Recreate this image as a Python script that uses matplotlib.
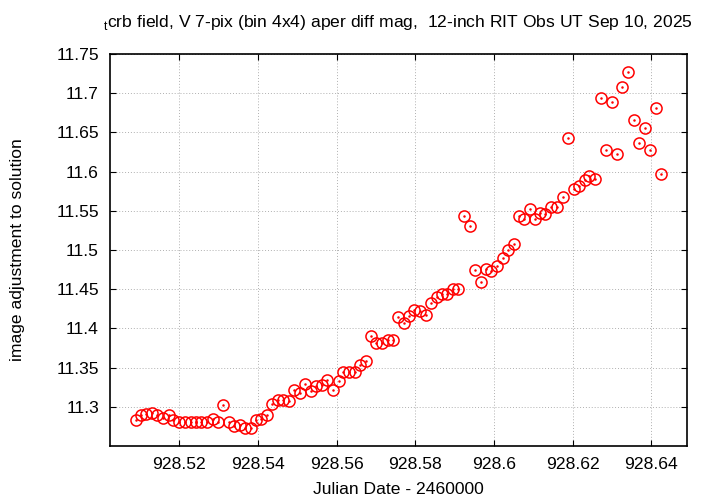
import matplotlib
matplotlib.use("Agg")
import matplotlib.pyplot as plt

plt.rcParams['font.family'] = ['Liberation Sans', 'DejaVu Sans']
plt.rcParams['mathtext.fontset'] = 'custom'
plt.rcParams['mathtext.rm'] = 'Liberation Sans'

# Julian Date - 2460000
jd = [928.5089, 928.5102, 928.5115, 928.5130, 928.5143, 928.5159, 928.5174, 928.5185,
      928.5200, 928.5214, 928.5229, 928.5242, 928.5256, 928.5270, 928.5285, 928.5298,
      928.5312, 928.5326, 928.5340, 928.5354, 928.5368, 928.5382, 928.5394, 928.5409,
      928.5424, 928.5437, 928.5450, 928.5464, 928.5480, 928.5493, 928.5507, 928.5521,
      928.5534, 928.5547, 928.5562, 928.5576, 928.5591, 928.5605, 928.5617, 928.5631,
      928.5647, 928.5660, 928.5675, 928.5688, 928.5700, 928.5715, 928.5730, 928.5744,
      928.5757, 928.5771, 928.5785, 928.5798, 928.5812, 928.5827, 928.5841, 928.5855,
      928.5868, 928.5882, 928.5896, 928.5910, 928.5924, 928.5939, 928.5952, 928.5966,
      928.5980, 928.5993, 928.6008, 928.6022, 928.6036, 928.6050, 928.6063, 928.6077,
      928.6091, 928.6105, 928.6117, 928.6131, 928.6146, 928.6160, 928.6175, 928.6188,
      928.6203, 928.6216, 928.6231, 928.6243, 928.6257, 928.6272, 928.6285, 928.6300,
      928.6313, 928.6327, 928.6341, 928.6355, 928.6369, 928.6383, 928.6397, 928.6411,
      928.6424]

# image adjustment to solution
adj = [11.283, 11.290, 11.291, 11.292, 11.290, 11.286, 11.289, 11.283,
       11.281, 11.281, 11.281, 11.281, 11.280, 11.280, 11.284, 11.280,
       11.302, 11.280, 11.275, 11.277, 11.273, 11.273, 11.283, 11.284,
       11.289, 11.303, 11.309, 11.309, 11.307, 11.322, 11.318, 11.329,
       11.320, 11.326, 11.328, 11.334, 11.322, 11.333, 11.344, 11.344,
       11.344, 11.353, 11.359, 11.390, 11.382, 11.381, 11.385, 11.385,
       11.414, 11.407, 11.416, 11.424, 11.422, 11.417, 11.432, 11.440,
       11.444, 11.444, 11.450, 11.450, 11.544, 11.530, 11.474, 11.459,
       11.476, 11.473, 11.480, 11.490, 11.500, 11.508, 11.544, 11.540,
       11.552, 11.540, 11.547, 11.546, 11.555, 11.555, 11.568, 11.643,
       11.578, 11.581, 11.589, 11.594, 11.591, 11.694, 11.627, 11.689,
       11.622, 11.708, 11.727, 11.666, 11.636, 11.655, 11.627, 11.681,
       11.597]

xticks = [928.52, 928.54, 928.56, 928.58, 928.60, 928.62, 928.64]
xticklabels = ['928.52', '928.54', '928.56', '928.58', '928.6', '928.62', '928.64']
yticks = [11.3, 11.35, 11.4, 11.45, 11.5, 11.55, 11.6, 11.65, 11.7, 11.75]
yticklabels = ['11.3', '11.35', '11.4', '11.45', '11.5', '11.55', '11.6', '11.65', '11.7', '11.75']

fig = plt.figure(figsize=(7.2, 5.04), dpi=100)
ax = fig.add_axes([110/720, 1-446/504, 577/720, 392/504])

ax.plot(jd, adj, 'o', mfc='none', mec='#ff0000', ms=8, mew=1.1, ls='none')
ax.plot(jd, adj, 'o', color='#ff0000', ms=0.8, ls='none')

ax.set_xlim(928.5024, 928.6491)
ax.set_ylim(11.25, 11.75)
ax.set_xticks(xticks)
ax.set_xticklabels(xticklabels)
ax.set_yticks(yticks)
ax.set_yticklabels(yticklabels)

ax.tick_params(direction='in', length=4.5, width=0.8, top=True, right=True,
               labelsize=12.6, pad=8)
ax.grid(True, color='#b0b0b0', linestyle=(0, (1, 2)), linewidth=0.7)
for s in ax.spines.values():
    s.set_linewidth(1.2)

fig.text(398/720, 1-22/504, r"$_{\mathrm{t}}$crb field, V 7-pix (bin 4x4) aper diff mag,  12-inch RIT Obs UT Sep 10, 2025",
         ha='center', va='center', fontsize=12.6)
fig.text(398/720, 1-490/504, "Julian Date - 2460000", ha='center', va='center', fontsize=12.6)
fig.text(18/720, 1-250/504, "image adjustment to solution", ha='center', va='center',
         rotation=90, fontsize=12.6)

fig.savefig("out.png", dpi=100)
